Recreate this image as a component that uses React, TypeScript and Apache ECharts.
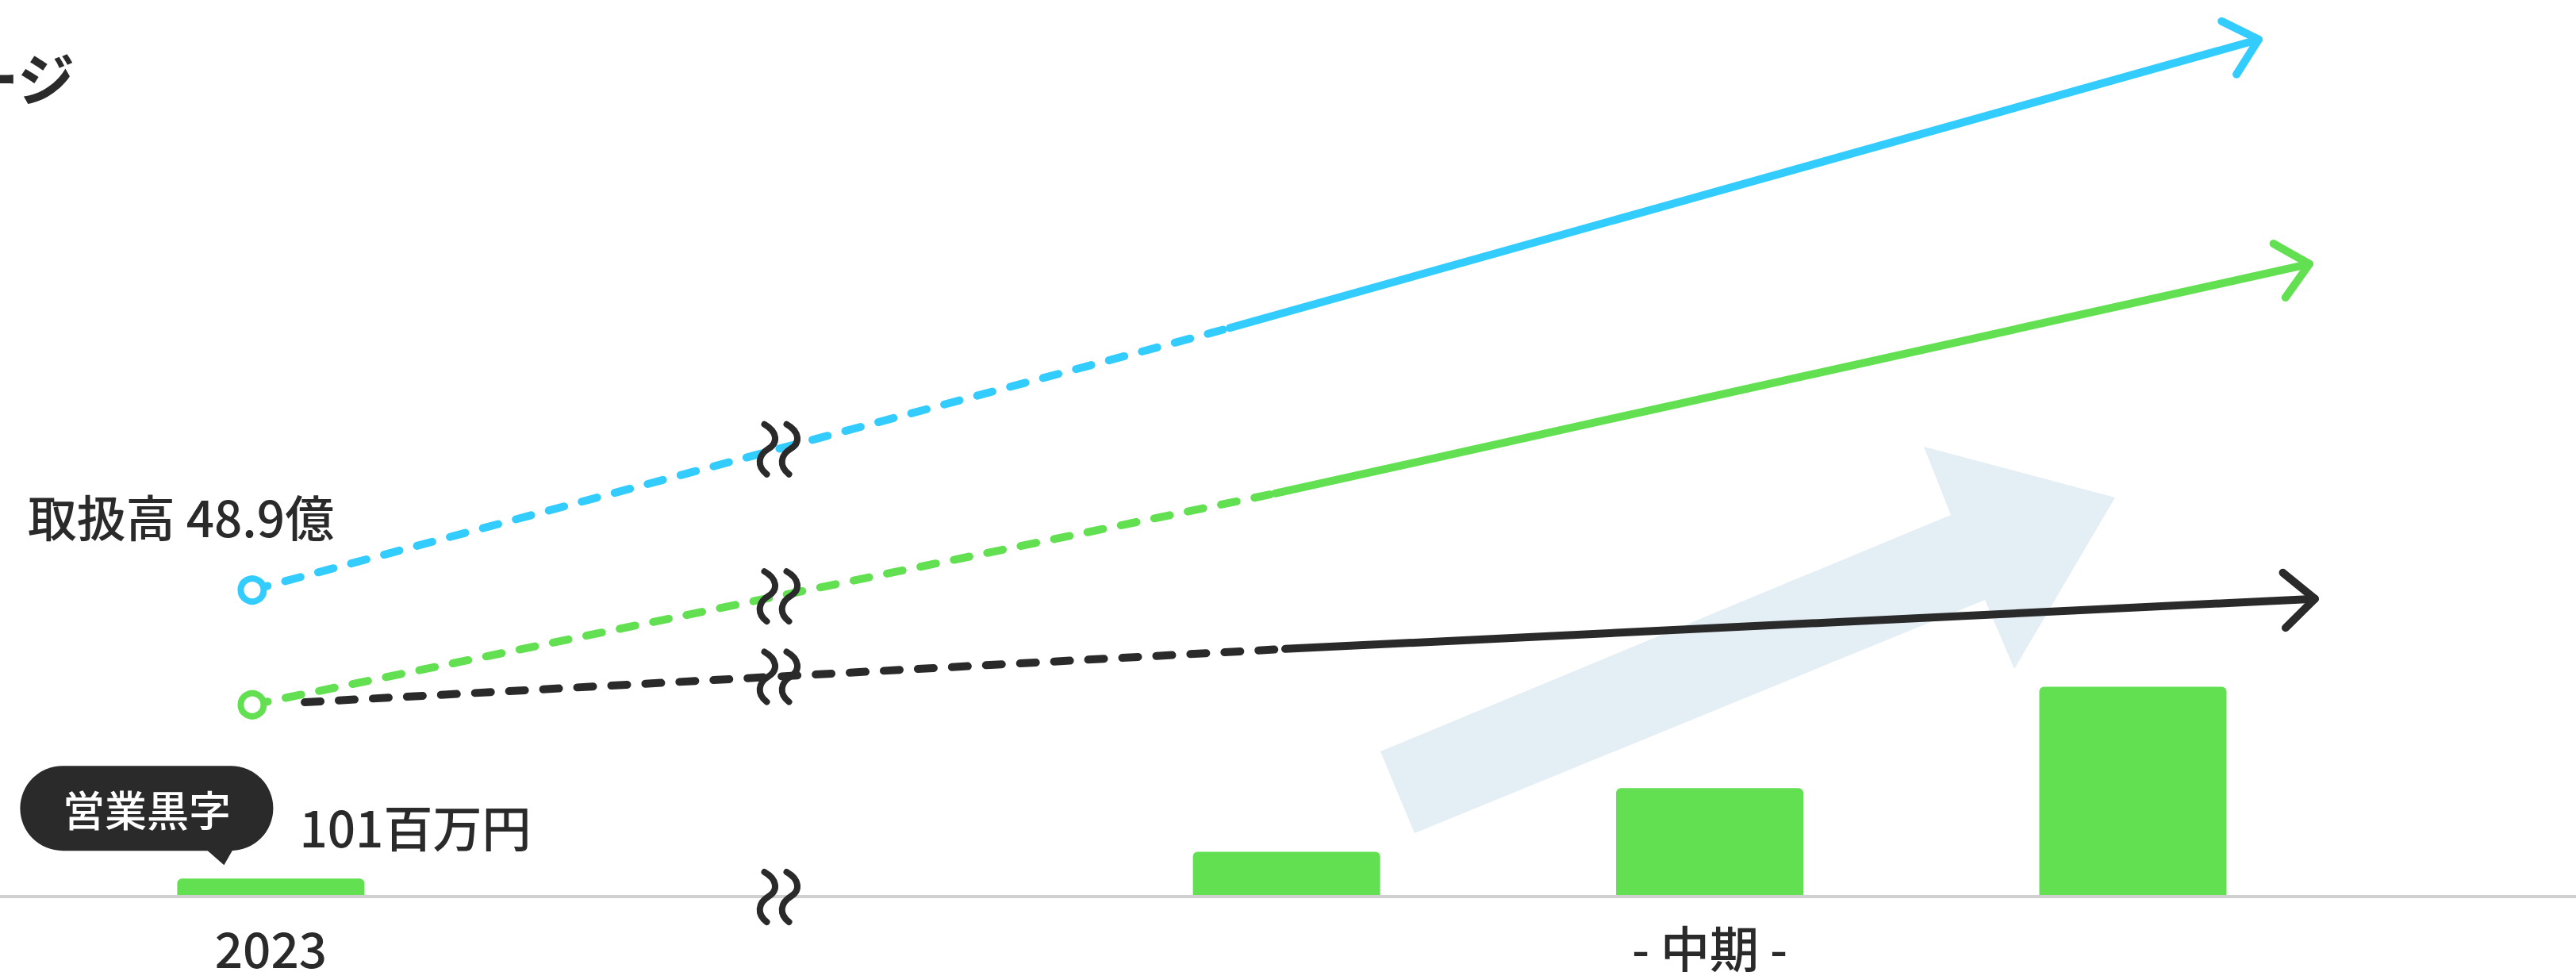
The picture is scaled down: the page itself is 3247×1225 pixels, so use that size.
import React, { useEffect, useRef } from 'react';
import * as echarts from 'echarts';

const FONT = '"Noto Sans CJK JP", "Noto Sans", sans-serif';
const INK = '#2a2a2a';
const BLUE = '#33ccff';
const GREEN = '#62e052';
const AXIS = '#d0d0d0';
const PALE = '#e3eef5';

// bars: position on the time axis (2023 = 0) and operating profit (百万円)
const barPositions = [0, 2.4, 3.4, 4.4];
const barValues = [101, 250, 605, 1170];
const barUnit = '百万円';
const bubbleText = '営業黒字';

// x-axis labels
const axisLabelPositions = [0, 3.4];
const axisLabels = ['2023', '- 中期 -'];
const breakX = 1.2;

// trend lines: [start, start of solid part, arrow tip]
const blueLine = [[-0.044, 48.9], [2.266, 90.7], [4.697, 136.7]];
const greenLine = [[-0.044, 30.6], [2.373, 64.3], [4.817, 100.9]];
const blackLine = [[0.08, 31.0], [2.397, 39.5], [4.83, 47.5]];
const lineColors = [BLUE, GREEN, INK];
const blueLabelPrefix = '取扱高 ';
const blueLabelUnit = '億';

// decorative background arrow (pixels)
const bgArrow = [[1740, 947], [2459, 649], [2425, 563], [2666, 627], [2539, 843], [2502, 756], [1783, 1050]];

const LW = 10;
const DASH = [20, 23];

function interpAt(line: number[][], x: number) {
  const a = line[0];
  const b = line[1];
  const t = (x - a[0]) / (b[0] - a[0]);
  return a[1] + t * (b[1] - a[1]);
}

function buildOption(): any {
  const lines = [blueLine, greenLine, blackLine];
  const lineSeries: any[] = [];
  lines.forEach((ln, i) => {
    const color = lineColors[i];
    const startItem: any = {
      value: ln[0],
      symbol: i < 2 ? 'circle' : 'none',
      symbolSize: 29,
      itemStyle: { color: '#ffffff', borderColor: color, borderWidth: 8 },
    };
    if (i === 0) {
      startItem.label = {
        show: true,
        position: 'top',
        distance: 5,
        offset: [-90, -37],
        formatter: (p: any) => `${blueLabelPrefix}${p.value[1]}${blueLabelUnit}`,
        fontSize: 62,
        fontWeight: 500,
        lineHeight: 66,
        color: INK,
        fontFamily: FONT,
      };
    }
    lineSeries.push({
      type: 'line',
      xAxisIndex: 0,
      yAxisIndex: 1,
      z: 4,
      silent: true,
      showSymbol: true,
      emphasis: { disabled: true },
      lineStyle: { color, width: LW, type: DASH, cap: 'round' },
      data: [startItem, { value: ln[1], symbol: 'none' }],
    });
    lineSeries.push({
      type: 'line',
      xAxisIndex: 0,
      yAxisIndex: 1,
      z: 4,
      silent: true,
      symbol: 'none',
      emphasis: { disabled: true },
      lineStyle: { color, width: LW, type: 'solid', cap: 'round' },
      data: [ln[1], ln[2]],
    });
  });

  const arrowData = lines.map((ln, i) => [ln[1][0], ln[1][1], ln[2][0], ln[2][1], i]);
  const breakData = [
    [breakX, interpAt(blueLine, breakX)],
    [breakX, interpAt(greenLine, breakX)],
    [breakX, interpAt(blackLine, breakX)],
    [breakX, 0],
  ];

  const barData = barPositions.map((x, i) => {
    if (i !== 0) return [x, barValues[i]];
    return {
      value: [x, barValues[i]],
      label: {
        show: true,
        position: 'top',
        distance: 35,
        align: 'left',
        offset: [-316, 0],
        formatter: (p: any) => `{tag|${bubbleText}}{val|${p.value[1]}${barUnit}}`,
        rich: {
          tag: {
            backgroundColor: INK,
            color: '#ffffff',
            fontSize: 53,
            fontWeight: 500,
            fontFamily: FONT,
            width: 319,
            height: 107,
            lineHeight: 107,
            align: 'center',
            borderRadius: 54,
          },
          val: {
            color: INK,
            fontSize: 62,
            fontWeight: 500,
            fontFamily: FONT,
            lineHeight: 64,
            verticalAlign: 'bottom',
            padding: [0, 0, 0, 33],
          },
        },
      },
    };
  });

  return {
    animation: false,
    backgroundColor: '#ffffff',
    grid: { left: 0, right: 0, top: 0, bottom: 95, containLabel: false },
    xAxis: {
      type: 'value',
      min: -0.64,
      max: 5.447,
      z: 3,
      axisLine: { show: true, onZero: true, lineStyle: { color: AXIS, width: 4 } },
      axisTick: { show: false },
      splitLine: { show: false },
      axisLabel: {
        customValues: axisLabelPositions,
        formatter: (v: number) => {
          const idx = axisLabelPositions.findIndex((p) => Math.abs(p - v) < 1e-6);
          return idx >= 0 ? axisLabels[idx] : '';
        },
        fontSize: 62,
        fontWeight: 500,
        lineHeight: 50,
        color: INK,
        fontFamily: FONT,
        margin: 38,
      },
    },
    yAxis: [
      { type: 'value', min: 0, max: 5000, show: false },
      { type: 'value', min: 0, max: 143, show: false },
    ],
    graphic: [
      { type: 'polygon', z: 1, silent: true, shape: { points: bgArrow }, style: { fill: PALE } },
      {
        type: 'text',
        z: 10,
        x: 94,
        y: 95,
        style: {
          text: 'ージ',
          fill: INK,
          fontSize: 72,
          fontWeight: 'bold',
          fontFamily: FONT,
          align: 'right',
          verticalAlign: 'middle',
        },
      },
    ],
    series: [
      {
        type: 'bar',
        xAxisIndex: 0,
        yAxisIndex: 0,
        z: 2,
        silent: true,
        barWidth: 236,
        itemStyle: { color: GREEN, borderRadius: [6, 6, 0, 0] },
        emphasis: { disabled: true },
        data: barData,
      },
      ...lineSeries,
      {
        type: 'custom',
        xAxisIndex: 0,
        yAxisIndex: 1,
        z: 5,
        silent: true,
        clip: false,
        encode: { x: [0, 2], y: [1, 3] },
        data: arrowData,
        renderItem: (params: any, api: any) => {
          const p1 = api.coord([api.value(0), api.value(1)]);
          const p2 = api.coord([api.value(2), api.value(3)]);
          const color = lineColors[api.value(4)];
          const ang = Math.atan2(p1[1] - p2[1], p1[0] - p2[0]);
          const L = 52;
          const a = (42 * Math.PI) / 180;
          const arm = (s: number) => [p2[0] + L * Math.cos(ang + s * a), p2[1] + L * Math.sin(ang + s * a)];
          return {
            type: 'polyline',
            shape: { points: [arm(1), p2, arm(-1)] },
            style: { stroke: color, lineWidth: LW, fill: 'none', lineCap: 'round', lineJoin: 'round' },
          };
        },
      },
      {
        type: 'custom',
        xAxisIndex: 0,
        yAxisIndex: 1,
        z: 6,
        silent: true,
        clip: false,
        data: breakData,
        renderItem: (params: any, api: any) => {
          const c = api.coord([api.value(0), api.value(1)]);
          const mk = (dx: number) => ({
            type: 'path',
            x: c[0] + dx,
            y: c[1],
            shape: { pathData: 'M-4,-31 C12,-22 14,-8 1,0 C-12,8 -14,22 -1,32' },
            style: { stroke: INK, lineWidth: 8, fill: 'none', lineCap: 'round' },
          });
          return { type: 'group', children: [mk(-14), mk(14)] };
        },
      },
      {
        type: 'custom',
        xAxisIndex: 0,
        yAxisIndex: 0,
        z: 6,
        silent: true,
        clip: false,
        data: [[barPositions[0], barValues[0]]],
        renderItem: (params: any, api: any) => {
          const c = api.coord([api.value(0), api.value(1)]);
          return {
            type: 'polygon',
            shape: { points: [[c[0] - 83, c[1] - 38], [c[0] - 47, c[1] - 38], [c[0] - 59, c[1] - 17]] },
            style: { fill: INK },
          };
        },
      },
    ],
  };
}

export default function App() {
  const ref = useRef<HTMLDivElement>(null);
  useEffect(() => {
    const el = ref.current;
    if (!el) return;
    const chart = echarts.init(el, null, { renderer: 'svg' });
    chart.setOption(buildOption());
    return () => {
      chart.dispose();
    };
  }, []);
  return (
    <div
      ref={ref}
      style={{ position: 'fixed', left: 0, top: 0, width: '3247px', height: '1225px', background: '#fff' }}
    />
  );
}
